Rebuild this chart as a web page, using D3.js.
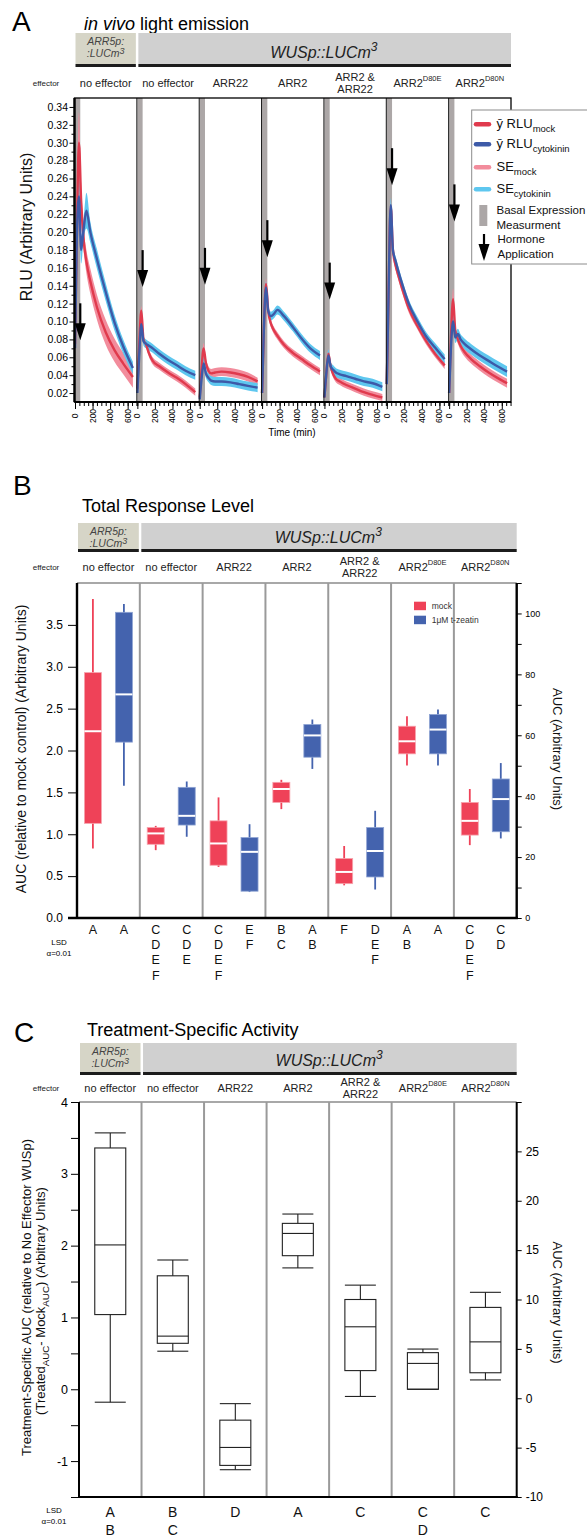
<!DOCTYPE html>
<html>
<head>
<meta charset="utf-8">
<script src="https://cdn.jsdelivr.net/npm/d3@7"></script>
<style>
body {margin: 0; background: #fff;}
svg {display: block; font-family: "Liberation Sans", Arial, sans-serif;}
</style>
</head>
<body>
<svg id="fig" width="587" height="1536"></svg>
<script>
var svg = d3.select("#fig");

// column categories, shared by the three panels
var effectorLines = [["no effector"], ["no effector"], ["ARR22"], ["ARR2"], ["ARR2 &", "ARR22"], ["ARR2"], ["ARR2"]];
var effectorSup = ["", "", "", "", "", "D80E", "D80N"];

// A - in vivo light emission (RLU, one row per column)
var timePoints = [0, 20, 45, 70, 100, 130, 175, 250, 350, 450, 550, 660];
var mockMean = [
	[0.075, 0.19, 0.30, 0.235, 0.19, 0.167, 0.145, 0.116, 0.088, 0.068, 0.053, 0.038],
	[0.025, 0.07, 0.112, 0.08, 0.074, 0.065, 0.056, 0.05, 0.043, 0.037, 0.030, 0.021],
	[0.015, 0.045, 0.07, 0.054, 0.045, 0.042, 0.043, 0.044, 0.043, 0.041, 0.038, 0.033],
	[0.02, 0.09, 0.142, 0.112, 0.098, 0.091, 0.084, 0.074, 0.065, 0.058, 0.051, 0.044],
	[0.015, 0.04, 0.064, 0.05, 0.041, 0.036, 0.033, 0.029, 0.025, 0.021, 0.018, 0.015],
	[0.03, 0.13, 0.228, 0.18, 0.163, 0.152, 0.137, 0.115, 0.095, 0.078, 0.064, 0.051],
	[0.02, 0.08, 0.125, 0.09, 0.08, 0.073, 0.066, 0.058, 0.05, 0.043, 0.037, 0.031]
];
var cytoMean = [
	[0.07, 0.19, 0.24, 0.18, 0.205, 0.224, 0.20, 0.17, 0.133, 0.099, 0.072, 0.048],
	[0.02, 0.06, 0.097, 0.078, 0.075, 0.073, 0.070, 0.064, 0.057, 0.051, 0.045, 0.040],
	[0.013, 0.035, 0.053, 0.042, 0.037, 0.034, 0.033, 0.033, 0.032, 0.030, 0.028, 0.026],
	[0.02, 0.09, 0.138, 0.112, 0.106, 0.108, 0.113, 0.106, 0.094, 0.081, 0.070, 0.062],
	[0.015, 0.04, 0.062, 0.05, 0.046, 0.043, 0.041, 0.039, 0.036, 0.033, 0.031, 0.027],
	[0.03, 0.13, 0.23, 0.18, 0.168, 0.157, 0.142, 0.12, 0.10, 0.083, 0.071, 0.058],
	[0.02, 0.07, 0.10, 0.082, 0.086, 0.08, 0.075, 0.069, 0.062, 0.056, 0.05, 0.044]
];
var mockSE = [
	[0.004, 0.02, 0.034, 0.02, 0.013, 0.013, 0.014, 0.014, 0.014, 0.013, 0.012, 0.012],
	[0.003, 0.004, 0.005, 0.004, 0.004, 0.004, 0.004, 0.004, 0.004, 0.004, 0.004, 0.004],
	[0.003, 0.004, 0.006, 0.005, 0.005, 0.005, 0.005, 0.005, 0.005, 0.005, 0.005, 0.004],
	[0.003, 0.005, 0.006, 0.005, 0.004, 0.004, 0.004, 0.004, 0.004, 0.004, 0.004, 0.004],
	[0.003, 0.004, 0.005, 0.004, 0.004, 0.004, 0.004, 0.004, 0.004, 0.004, 0.004, 0.004],
	[0.003, 0.005, 0.008, 0.005, 0.005, 0.005, 0.005, 0.005, 0.004, 0.004, 0.004, 0.004],
	[0.003, 0.006, 0.012, 0.006, 0.005, 0.005, 0.005, 0.005, 0.005, 0.005, 0.005, 0.005]
];
var cytoSE = [
	[0.004, 0.015, 0.02, 0.015, 0.012, 0.02, 0.012, 0.011, 0.01, 0.009, 0.008, 0.007],
	[0.003, 0.005, 0.006, 0.005, 0.005, 0.005, 0.005, 0.005, 0.005, 0.005, 0.005, 0.005],
	[0.003, 0.005, 0.006, 0.005, 0.005, 0.005, 0.005, 0.005, 0.005, 0.005, 0.005, 0.005],
	[0.003, 0.005, 0.007, 0.005, 0.005, 0.005, 0.005, 0.005, 0.005, 0.005, 0.005, 0.005],
	[0.003, 0.005, 0.007, 0.005, 0.005, 0.005, 0.005, 0.005, 0.005, 0.005, 0.005, 0.005],
	[0.003, 0.005, 0.008, 0.005, 0.005, 0.005, 0.005, 0.005, 0.005, 0.005, 0.005, 0.005],
	[0.003, 0.006, 0.008, 0.006, 0.006, 0.006, 0.006, 0.006, 0.006, 0.006, 0.006, 0.006]
];
var basalEnd = 60;
var hormoneTime = 60;
var arrowTip = [0.079, 0.1385, 0.141, 0.172, 0.1245, 0.2525, 0.212];
var rluTicks = [0.02, 0.04, 0.06, 0.08, 0.10, 0.12, 0.14, 0.16, 0.18, 0.20, 0.22, 0.24, 0.26, 0.28, 0.30, 0.32, 0.34];
var timeTicks = [0, 200, 400, 600];

// B - total response level, [low whisker, q1, median, q3, high whisker]
var mockBoxB = [
	[0.83, 1.13, 2.23, 2.93, 3.81],
	[0.81, 0.88, 1.01, 1.08, 1.10],
	[0.61, 0.63, 0.89, 1.16, 1.44],
	[1.30, 1.38, 1.54, 1.62, 1.65],
	[0.39, 0.41, 0.55, 0.71, 0.86],
	[1.82, 1.96, 2.11, 2.29, 2.41],
	[0.87, 0.99, 1.16, 1.38, 1.54]
];
var cytoBoxB = [
	[1.58, 2.10, 2.67, 3.65, 3.75],
	[0.97, 1.11, 1.22, 1.56, 1.63],
	[0.31, 0.32, 0.79, 0.96, 1.12],
	[1.78, 1.92, 2.18, 2.31, 2.37],
	[0.34, 0.49, 0.80, 1.08, 1.28],
	[1.82, 1.96, 2.25, 2.43, 2.49],
	[0.95, 1.03, 1.42, 1.66, 1.85]
];
var lsdB = [["A"], ["A"], ["C", "D", "E", "F"], ["C", "D", "E"], ["C", "D", "E", "F"], ["E", "F"], ["B", "C"],
	["A", "B"], ["F"], ["D", "E", "F"], ["A", "B"], ["A"], ["C", "D", "E", "F"], ["C", "D"]];
var aucTicksB = [0, 0.5, 1.0, 1.5, 2.0, 2.5, 3.0, 3.5];
var aucRightTicksB = [0, 20, 40, 60, 80, 100];

// C - treatment-specific activity
var boxC = [
	[-0.18, 1.04, 2.01, 3.36, 3.57],
	[0.53, 0.64, 0.74, 1.58, 1.80],
	[-1.12, -1.06, -0.81, -0.43, -0.20],
	[1.69, 1.86, 2.17, 2.31, 2.44],
	[-0.10, 0.26, 0.87, 1.25, 1.45],
	[0.0, 0.0, 0.36, 0.51, 0.56],
	[0.13, 0.23, 0.66, 1.14, 1.35]
];
var lsdC = [["A", "B"], ["B", "C"], ["D"], ["A"], ["C"], ["C", "D"], ["C"]];
var actTicksC = [-1, 0, 1, 2, 3, 4];
var actRightTicksC = [-10, -5, 0, 5, 10, 15, 20, 25];

var RED = "#e03a4d", BLUE = "#3d5aa8", PINK = "#f28c9c", SKY = "#5ec7ef", GREY = "#aca7a7";
var BOXRED = "#ef4258", BOXBLUE = "#4463ae";

function header (band, o) {
	var x0 = band.range()[0], x1 = band.range()[1], bw = band.bandwidth();
	var cx = x0 + bw / 2;

	svg.append("text").attr("x", o.letterX).attr("y", o.letterY).attr("font-size", 28).text(o.letter);
	var t = svg.append("text").attr("x", o.titleX).attr("y", o.titleY).attr("font-size", 18);
	o.title.forEach(function (p) {
		t.append("tspan").attr("font-style", p[1] ? "italic" : null).text(p[0]);
	});

	svg.append("rect").attr("x", x0 + 1).attr("y", o.top).attr("width", bw - 2).attr("height", o.bottom - o.top).attr("fill", "#d6d5c7");
	svg.append("rect").attr("x", x0 + bw + 1.5).attr("y", o.top).attr("width", x1 - x0 - bw - 1.5).attr("height", o.bottom - o.top).attr("fill", "#d0d0d0");
	svg.append("rect").attr("x", x0 + 1).attr("y", o.bottom).attr("width", bw - 2).attr("height", 3).attr("fill", "#1c1c1c");
	svg.append("rect").attr("x", x0 + bw + 1.5).attr("y", o.bottom).attr("width", x1 - x0 - bw - 1.5).attr("height", 3).attr("fill", "#1c1c1c");

	svg.append("text").attr("x", cx).attr("y", o.top + 12).attr("text-anchor", "middle")
		.attr("font-size", 10.5).attr("font-style", "italic").attr("fill", "#444").text("ARR5p:");
	var l2 = svg.append("text").attr("x", cx).attr("y", o.top + 24).attr("text-anchor", "middle")
		.attr("font-size", 10.5).attr("font-style", "italic").attr("fill", "#444");
	l2.append("tspan").text(":LUCm");
	l2.append("tspan").attr("dy", -3.5).attr("font-size", 9).text("3");

	var wus = svg.append("text").attr("x", (x0 + bw + x1) / 2).attr("y", o.bottom - 6).attr("text-anchor", "middle")
		.attr("font-size", 16).attr("font-style", "italic").attr("fill", "#222");
	wus.append("tspan").text("WUSp::LUCm");
	wus.append("tspan").attr("dy", -7).attr("font-size", 12).text("3");

	svg.append("text").attr("x", 46).attr("y", o.labelY + 3).attr("text-anchor", "middle").attr("font-size", 8).attr("fill", "#222").text("effector");
	effectorLines.forEach(function (lines, i) {
		var c = band(i) + bw / 2;
		lines.forEach(function (s, k) {
			var tx = svg.append("text").attr("x", c).attr("y", o.labelY + 4 + (k - (lines.length - 1) / 2) * 12)
				.attr("text-anchor", "middle").attr("font-size", 11).attr("fill", "#222");
			tx.append("tspan").text(s);
			if (effectorSup[i]) {
				tx.append("tspan").attr("dy", -6).attr("font-size", 7.5).text(effectorSup[i]);
			}
		});
	});
}

function styleAxis (g, size) {
	g.attr("font-family", null).attr("font-size", size);
	g.select(".domain").remove();
	g.selectAll("line").attr("stroke", "#000");
	g.selectAll("text").attr("fill", "#000");
}

function arrow (g, x, tip, len) {
	g.append("line").attr("x1", x).attr("x2", x).attr("y1", tip - len).attr("y2", tip - 14)
		.attr("stroke", "#000").attr("stroke-width", 2.2);
	g.append("path").attr("d", "M" + (x - 5.5) + "," + (tip - 17) + "L" + (x + 5.5) + "," + (tip - 17) + "L" + x + "," + tip + "Z").attr("fill", "#000");
}

// parts: [text, isSubscript]
function vlabel (x, y, rot, size, parts) {
	var t = svg.append("text").attr("transform", "translate(" + x + "," + y + ") rotate(" + rot + ")")
		.attr("text-anchor", "middle").attr("font-size", size).attr("fill", "#111");
	var low = false;
	parts.forEach(function (p) {
		var s = t.append("tspan").text(p[0]);
		if (p[1] && !low) {
			s.attr("font-size", size * 0.75).attr("dy", size * 0.3);
			low = true;
		} else if (!p[1] && low) {
			s.attr("dy", -size * 0.3);
			low = false;
		} else if (p[1]) {
			s.attr("font-size", size * 0.75);
		}
	});
	return t;
}

/* ---------- A ---------- */
var aBand = d3.scaleBand().domain(d3.range(7)).range([74.5, 511]);
var aTop = 98, aBot = 402;
var yA = d3.scaleLinear().domain([0.01, 0.35]).range([aBot, aTop]);

header(aBand, {letter: "A", letterX: 12, letterY: 31, titleX: 84, titleY: 29.5,
	title: [["in vivo", true], [" light emission", false]], top: 33, bottom: 64, labelY: 83});

var gA = svg.append("g");
d3.range(7).forEach(function (i) {
	var x = d3.scaleLinear().domain([0, 705]).range([aBand(i) + 0.5, aBand(i) + aBand.bandwidth()]);
	var pts = timePoints.map(function (t, k) {
		return {t: t, m: mockMean[i][k], ms: mockSE[i][k], c: cytoMean[i][k], cs: cytoSE[i][k]};
	});

	gA.append("rect").attr("x", x(0)).attr("y", aTop).attr("width", x(basalEnd) - x(0)).attr("height", aBot - aTop).attr("fill", GREY);

	function band (key, se) {
		return d3.area().curve(d3.curveMonotoneX)
			.x(function (d) { return x(d.t); })
			.y0(function (d) { return yA(d[key] - d[se]); })
			.y1(function (d) { return yA(d[key] + d[se]); });
	}
	function mean (key) {
		return d3.line().curve(d3.curveMonotoneX)
			.x(function (d) { return x(d.t); })
			.y(function (d) { return yA(d[key]); });
	}
	gA.append("path").attr("d", band("m", "ms")(pts)).attr("fill", PINK);
	gA.append("path").attr("d", band("c", "cs")(pts)).attr("fill", SKY);
	gA.append("path").attr("d", mean("m")(pts)).attr("fill", "none").attr("stroke", RED).attr("stroke-width", 2.4);
	gA.append("path").attr("d", mean("c")(pts)).attr("fill", "none").attr("stroke", BLUE).attr("stroke-width", 2.4);

	arrow(gA, x(hormoneTime), yA(arrowTip[i]), 37);

	if (i > 0) {
		gA.append("line").attr("x1", aBand(i)).attr("x2", aBand(i)).attr("y1", aTop).attr("y2", aBot).attr("stroke", "#111").attr("stroke-width", 1);
	}

	svg.append("g").attr("transform", "translate(0," + aBot + ")")
		.call(d3.axisBottom(x).tickValues(d3.range(0, 701, 50)).tickSize(4).tickFormat(""))
		.call(styleAxis, 8);
	svg.append("g").attr("transform", "translate(0," + aBot + ")")
		.call(d3.axisBottom(x).tickValues(timeTicks).tickSize(7).tickFormat(""))
		.call(styleAxis, 8);
	timeTicks.forEach(function (v) {
		svg.append("text").attr("transform", "translate(" + x(v) + ",416) rotate(-90)")
			.attr("text-anchor", "middle").attr("dy", "0.35em").attr("font-size", 8.5).text(v);
	});
});

svg.append("rect").attr("x", 74.5).attr("y", aTop).attr("width", 511 - 74.5).attr("height", aBot - aTop)
	.attr("fill", "none").attr("stroke", "#000").attr("stroke-width", 1.3);
svg.append("line").attr("x1", 74.5).attr("x2", 74.5).attr("y1", aTop).attr("y2", aBot).attr("stroke", "#000").attr("stroke-width", 2.4);
svg.append("line").attr("x1", 74.5).attr("x2", 511).attr("y1", aBot).attr("y2", aBot).attr("stroke", "#000").attr("stroke-width", 2.2);

svg.append("g").attr("transform", "translate(74.5,0)")
	.call(d3.axisLeft(yA).tickValues(d3.range(0.03, 0.35, 0.02)).tickSize(3).tickFormat(""))
	.call(styleAxis, 10.5);
svg.append("g").attr("transform", "translate(74.5,0)")
	.call(d3.axisLeft(yA).tickValues(rluTicks).tickSize(5).tickPadding(1.5).tickFormat(d3.format(".2f")))
	.call(styleAxis, 10.5);

vlabel(31.5, 227, -90, 16, [["RLU (Arbitrary Units)"]]);
svg.append("text").attr("x", 292).attr("y", 436).attr("text-anchor", "middle").attr("font-size", 10).text("Time (min)");

// legend A
var lg = svg.append("g");
lg.append("rect").attr("x", 471.7).attr("y", 110).attr("width", 130).attr("height", 154)
	.attr("fill", "#fff").attr("stroke", "#8c8c8c").attr("stroke-width", 1);
[[RED, "\u0233 RLU", "mock", 124.3], [BLUE, "\u0233 RLU", "cytokinin", 144.3], [PINK, "SE", "mock", 167.3], [SKY, "SE", "cytokinin", 189.3]]
	.forEach(function (e) {
		lg.append("line").attr("x1", 476).attr("x2", 489).attr("y1", e[3]).attr("y2", e[3])
			.attr("stroke", e[0]).attr("stroke-width", 4.5).attr("stroke-linecap", "round");
		var t = lg.append("text").attr("x", 496.5).attr("y", e[3] + 4).attr("font-size", 13).attr("fill", "#111");
		t.append("tspan").text(e[1]);
		t.append("tspan").attr("dy", 4).attr("font-size", 9.5).text(e[2]);
	});
lg.append("rect").attr("x", 479.3).attr("y", 205).attr("width", 8).attr("height", 21).attr("fill", GREY);
lg.append("text").attr("x", 496.5).attr("y", 213.5).attr("font-size", 11.5).attr("fill", "#111").text("Basal Expression");
lg.append("text").attr("x", 496.5).attr("y", 228.5).attr("font-size", 11.5).attr("fill", "#111").text("Measurment");
arrow(lg, 484, 261, 27);
lg.append("text").attr("x", 497.5).attr("y", 242.5).attr("font-size", 11.5).attr("fill", "#111").text("Hormone");
lg.append("text").attr("x", 497.5).attr("y", 257.5).attr("font-size", 11.5).attr("fill", "#111").text("Application");

/* ---------- B ---------- */
var bBand = d3.scaleBand().domain(d3.range(7)).range([77, 516.7]);
var bTop = 583, bBot = 918;
var yB = d3.scaleLinear().domain([0, 4]).range([bBot, bTop]);
var yBr = d3.scaleLinear().domain([0, 110]).range([bBot, bTop]);

header(bBand, {letter: "B", letterX: 13, letterY: 495, titleX: 82, titleY: 511.7,
	title: [["Total Response Level", false]], top: 523, bottom: 549, labelY: 567});

svg.append("line").attr("x1", 77).attr("x2", 516.7).attr("y1", bTop).attr("y2", bTop).attr("stroke", "#a8a8a8").attr("stroke-width", 2);
d3.range(1, 7).forEach(function (i) {
	svg.append("line").attr("x1", bBand(i)).attr("x2", bBand(i)).attr("y1", bTop).attr("y2", bBot).attr("stroke", "#9a9a9a").attr("stroke-width", 2);
});

function filledBox (cx, d, col, edge) {
	svg.append("line").attr("x1", cx).attr("x2", cx).attr("y1", yB(d[0])).attr("y2", yB(d[4])).attr("stroke", col).attr("stroke-width", 1.8);
	svg.append("rect").attr("x", cx - 8.5).attr("y", yB(d[3])).attr("width", 17).attr("height", yB(d[1]) - yB(d[3]))
		.attr("fill", col).attr("stroke", edge).attr("stroke-width", 0.8);
	svg.append("line").attr("x1", cx - 8.5).attr("x2", cx + 8.5).attr("y1", yB(d[2])).attr("y2", yB(d[2])).attr("stroke", "#fff").attr("stroke-width", 2);
}

var bCols = [];
d3.range(7).forEach(function (i) {
	var c = bBand(i) + bBand.bandwidth() / 2;
	filledBox(c - 15.5, mockBoxB[i], BOXRED, "#f7a3ad");
	filledBox(c + 15.5, cytoBoxB[i], BOXBLUE, "#8ea3d3");
	bCols.push(c - 15.5, c + 15.5);
});

lsdB.forEach(function (col, j) {
	col.forEach(function (s, k) {
		svg.append("text").attr("x", bCols[j]).attr("y", 929.5 + k * 15.3).attr("dy", "0.35em")
			.attr("text-anchor", "middle").attr("font-size", 12.5).attr("fill", "#111").text(s);
	});
});
svg.append("text").attr("x", 59).attr("y", 944.5).attr("text-anchor", "middle").attr("font-size", 8).text("LSD");
svg.append("text").attr("x", 59).attr("y", 955.5).attr("text-anchor", "middle").attr("font-size", 8).text("\u03b1=0.01");

// legend B
svg.append("rect").attr("x", 414).attr("y", 601.7).attr("width", 12).attr("height", 8.5).attr("fill", BOXRED);
svg.append("text").attr("x", 431.7).attr("y", 609).attr("font-size", 8.5).attr("fill", "#333").text("mock");
svg.append("rect").attr("x", 414).attr("y", 615.7).attr("width", 12).attr("height", 8.5).attr("fill", BOXBLUE);
svg.append("text").attr("x", 431.7).attr("y", 623).attr("font-size", 8.5).attr("fill", "#333").text("1\u03bcM t-zeatin");

svg.append("g").attr("transform", "translate(77,0)")
	.call(d3.axisLeft(yB).tickValues(aucTicksB).tickSize(9).tickPadding(5).tickFormat(d3.format(".1f")))
	.call(styleAxis, 12);
svg.append("g").attr("transform", "translate(516.7,0)")
	.call(d3.axisRight(yBr).tickValues(d3.range(0, 111, 10)).tickSize(5).tickPadding(3.5)
		.tickFormat(function (d) { return aucRightTicksB.indexOf(d) >= 0 ? d : ""; }))
	.call(styleAxis, 9);
svg.append("line").attr("x1", 77).attr("x2", 77).attr("y1", bTop).attr("y2", bBot).attr("stroke", "#000").attr("stroke-width", 2.4);
svg.append("line").attr("x1", 516.7).attr("x2", 516.7).attr("y1", bTop).attr("y2", bBot).attr("stroke", "#000").attr("stroke-width", 2.4);
svg.append("line").attr("x1", 68).attr("x2", 517.9).attr("y1", bBot).attr("y2", bBot).attr("stroke", "#000").attr("stroke-width", 2.4);

vlabel(25.5, 749, -90, 14, [["AUC (relative to mock control) (Arbitrary Units)"]]);
vlabel(552.5, 749, 90, 13, [["AUC (Arbitrary Units)"]]);

/* ---------- C ---------- */
var cBand = d3.scaleBand().domain(d3.range(7)).range([79, 516.7]);
var cTop = 1102, cBot = 1497;
var yC = d3.scaleLinear().domain([-1.5, 4]).range([cBot, cTop]);
var yCr = d3.scaleLinear().domain([-10, 30]).range([cBot, cTop]);

header(cBand, {letter: "C", letterX: 14, letterY: 1042, titleX: 87, titleY: 1035.7,
	title: [["Treatment-Specific Activity", false]], top: 1043, bottom: 1072, labelY: 1088});

svg.append("line").attr("x1", 79).attr("x2", 516.7).attr("y1", cTop).attr("y2", cTop).attr("stroke", "#a8a8a8").attr("stroke-width", 2);
d3.range(1, 7).forEach(function (i) {
	svg.append("line").attr("x1", cBand(i)).attr("x2", cBand(i)).attr("y1", cTop).attr("y2", cBot).attr("stroke", "#9a9a9a").attr("stroke-width", 2);
});

boxC.forEach(function (d, i) {
	var c = cBand(i) + cBand.bandwidth() / 2;
	var hw = 15.5;
	var g = svg.append("g").attr("stroke", "#222").attr("stroke-width", 1.1).attr("fill", "none");
	g.append("line").attr("x1", c).attr("x2", c).attr("y1", yC(d[0])).attr("y2", yC(d[4]));
	g.append("rect").attr("x", c - hw).attr("y", yC(d[3])).attr("width", hw * 2).attr("height", yC(d[1]) - yC(d[3])).attr("fill", "#fff");
	g.append("line").attr("x1", c - hw).attr("x2", c + hw).attr("y1", yC(d[2])).attr("y2", yC(d[2]));
	g.append("line").attr("x1", c - hw).attr("x2", c + hw).attr("y1", yC(d[4])).attr("y2", yC(d[4]));
	g.append("line").attr("x1", c - hw).attr("x2", c + hw).attr("y1", yC(d[0])).attr("y2", yC(d[0]));

	lsdC[i].forEach(function (s, k) {
		svg.append("text").attr("x", c).attr("y", 1512 + k * 17.6).attr("dy", "0.35em")
			.attr("text-anchor", "middle").attr("font-size", 14).attr("fill", "#111").text(s);
	});
});
svg.append("text").attr("x", 54).attr("y", 1513).attr("text-anchor", "middle").attr("font-size", 8).text("LSD");
svg.append("text").attr("x", 54).attr("y", 1523.7).attr("text-anchor", "middle").attr("font-size", 8).text("\u03b1=0.01");

svg.append("g").attr("transform", "translate(79,0)")
	.call(d3.axisLeft(yC).tickValues(d3.range(-1.5, 4.01, 0.5)).tickSize(8).tickPadding(3)
		.tickFormat(function (d) { return actTicksC.indexOf(d) >= 0 ? String(d) : ""; }))
	.call(styleAxis, 12.5);
svg.append("g").attr("transform", "translate(516.7,0)")
	.call(d3.axisRight(yCr).tickValues(d3.range(-10, 31, 5)).tickSize(5).tickPadding(4)
		.tickFormat(function (d) { return actRightTicksC.indexOf(d) >= 0 ? String(d) : ""; }))
	.call(styleAxis, 12);
svg.append("line").attr("x1", 79).attr("x2", 79).attr("y1", cTop).attr("y2", cBot).attr("stroke", "#000").attr("stroke-width", 2);
svg.append("line").attr("x1", 516.7).attr("x2", 516.7).attr("y1", cTop).attr("y2", cBot).attr("stroke", "#000").attr("stroke-width", 2);
svg.append("line").attr("x1", 78).attr("x2", 517.7).attr("y1", cBot).attr("y2", cBot).attr("stroke", "#000").attr("stroke-width", 2);

vlabel(31, 1297.5, -90, 13, [["Treatment-Specific AUC (relative to No Effector WUSp)", false]]);
vlabel(45, 1301, -90, 13, [["(Treated", false], ["AUC", true], ["- Mock", false], ["AUC", true], [") (Arbitrary Units)", false]]);
vlabel(553, 1302.5, 90, 13, [["AUC (Arbitrary Units)", false]]);
</script>
</body>
</html>
